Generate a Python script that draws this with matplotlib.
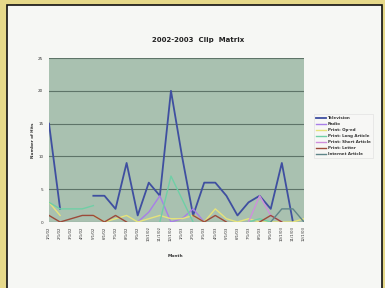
import numpy as np
import matplotlib
matplotlib.use("Agg")
import matplotlib.pyplot as plt
from matplotlib.patches import Rectangle

nan = np.nan
months = ['1/1/02', '2/1/02', '3/1/02', '4/1/02', '5/1/02', '6/1/02', '7/1/02', '8/1/02',
          '9/1/02', '10/1/02', '11/1/02', '12/1/02', '1/1/03', '2/1/03', '3/1/03', '4/1/03',
          '5/1/03', '6/1/03', '7/1/03', '8/1/03', '9/1/03', '10/1/03', '11/1/03', '12/1/03']

television = [15, 2, nan, nan, 4, 4, 2, 9, 1, 6, 4, 20, 10, 1, 6, 6, 4, 1, 3, 4, 2, 9, 0, nan]
radio = [nan, nan, nan, nan, nan, nan, nan, nan, 0, 1.5, 4, 0, 0.5, 2, 0, nan, nan, nan, nan, nan, nan, nan, nan, nan]
op_ed = [3, 1, nan, nan, 1, 0, 0.5, 1, 0, 0.5, 1, 0.5, 0.5, 1, 0, 2, 0.5, 0, 0.5, 0, 0, 0, 0, 0.5]
long_article = [3, 2, 2, 2, 2.5, nan, nan, nan, nan, nan, 0, 7, 3.5, 0, nan, nan, nan, nan, 0, 0.5, 0, nan, nan, nan]
short_article = [nan, nan, nan, nan, nan, nan, nan, nan, nan, nan, nan, nan, nan, nan, nan, nan, nan, nan, 0, 4, 1, 0, nan, nan]
letter = [1, 0, 0.5, 1, 1, 0, 1, 0, nan, nan, nan, nan, nan, 1, 0, 1, 0, nan, nan, 0, 1, 0, nan, nan]
internet = [nan, nan, nan, nan, nan, nan, nan, nan, nan, nan, nan, nan, nan, nan, nan, nan, nan, nan, nan, nan, 0, 2, 2, 0]

series = [
    ("Television", television, "#3f4fa0", 1.3),
    ("Radio", radio, "#a87ee8", 1.0),
    ("Print: Op-ed", op_ed, "#e6e37a", 1.0),
    ("Print: Long Article", long_article, "#6fcfa6", 1.0),
    ("Print: Short Article", short_article, "#cf8fdc", 1.0),
    ("Print: Letter", letter, "#9c4a3a", 1.0),
    ("Internet Article", internet, "#5f8589", 1.0),
]

fig = plt.figure(figsize=(3.85, 2.88), dpi=100)
fig.patch.set_facecolor("#e6d98a")
fig.patches.append(Rectangle((7/385, -0.01), (382-7)/385, 1-5/288+0.01, transform=fig.transFigure,
                             facecolor="#f6f7f4", edgecolor="#111111", linewidth=1.2, zorder=-10))

ax = fig.add_axes([49/385, 1-222/288, (304-49)/385, (222-58)/288])
ax.set_zorder(2)
ax.set_facecolor("#a9c1b0")
x = np.arange(len(months))
for name, vals, col, lw in series:
    ax.plot(x, vals, color=col, lw=lw, label=name)

ax.set_xlim(0, len(months)-1)
ax.set_ylim(0, 25)
ax.set_yticks([0, 5, 10, 15, 20, 25])
ax.set_xticks(x)
ax.set_xticklabels(months, rotation=90, fontsize=2.8, color="#333333")
ax.tick_params(axis='y', labelsize=3, colors="#333333", length=0, pad=4)
ax.tick_params(axis='x', length=0, pad=3)
ax.grid(axis='y', color="#5e7468", lw=0.8)
for s in ax.spines.values():
    s.set_visible(False)
ax.set_axisbelow(True)

fig.text(198/385, 1-40/288, "2002-2003  Clip  Matrix", ha='center', va='center',
         fontsize=5, fontweight='bold', color="#222222", zorder=3)
fig.text(175/385, 1-256/288, "Month", ha='center', va='center', fontsize=3.2,
         fontweight='bold', color="#333333", zorder=3)
fig.text(33/385, 1-140/288, "Number of Hits", ha='center', va='center', fontsize=3,
         fontweight='bold', rotation=90, color="#333333", zorder=3)

leg = fig.legend(loc='upper left', bbox_to_anchor=(312/385, 1-112/288), fontsize=2.9,
                 frameon=True, handlelength=2.5, borderpad=0.5, labelspacing=0.5,
                 handletextpad=0.4, fancybox=False, edgecolor="#dddddd")
leg.set_zorder(3)
leg.get_frame().set_linewidth(0.5)
leg.get_frame().set_facecolor("#f8f8f6")
for t in leg.get_texts():
    t.set_fontweight('bold')
    t.set_color("#333333")

fig.savefig("out.png", dpi=100)
